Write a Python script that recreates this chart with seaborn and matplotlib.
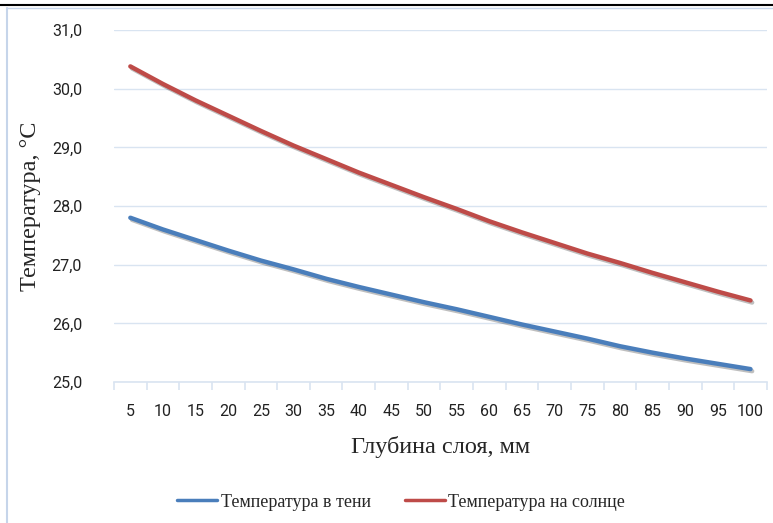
# plot.py - temperature vs layer depth (shade / sun)
import matplotlib
matplotlib.use("Agg")
import matplotlib.pyplot as plt
import matplotlib.patheffects as pe
import matplotlib.ticker as ticker
import pandas as pd
import seaborn as sns

# Data
depth = [5, 10, 15, 20, 25, 30, 35, 40, 45, 50,
         55, 60, 65, 70, 75, 80, 85, 90, 95, 100]
temp_shade = [27.80, 27.60, 27.42, 27.24, 27.07, 26.92, 26.76, 26.62, 26.49, 26.36,
              26.24, 26.11, 25.98, 25.86, 25.74, 25.61, 25.50, 25.40, 25.31, 25.22]
temp_sun = [30.38, 30.08, 29.80, 29.54, 29.28, 29.03, 28.80, 28.57, 28.36, 28.15,
            27.95, 27.74, 27.55, 27.37, 27.19, 27.03, 26.86, 26.70, 26.54, 26.39]
series_names = ["Температура в тени", "Температура на солнце"]
y_ticks = [25, 26, 27, 28, 29, 30, 31]

df = pd.DataFrame({
    "depth": [str(d) for d in depth] * 2,
    "temp": temp_shade + temp_sun,
    "series": [series_names[0]] * len(depth) + [series_names[1]] * len(depth),
})

sns.set_theme(style="white")
plt.rcParams["font.family"] = ["Roboto", "DejaVu Sans"]

fig = plt.figure(figsize=(7.73, 5.23), dpi=100)
ax = fig.add_axes([0.1475, 0.2696, 0.8445, 0.673])

# shadow under the lines like in the excel chart
shadow = [pe.SimpleLineShadow(offset=(1.2, -1.5), alpha=0.25, shadow_color="black"), pe.Normal()]
sns.lineplot(data=df, x="depth", y="temp", hue="series",
             palette=["#4a7ebb", "#be4b48"], linewidth=3.2,
             ax=ax, sort=False, legend=False, path_effects=shadow)

ax.set_xlim(-0.5, len(depth) - 0.5)
ax.set_ylim(25, 31)
ax.set_yticks(y_ticks)
ax.set_yticklabels([f"{v:.1f}".replace(".", ",") for v in y_ticks])
ax.grid(axis="y", color="#d9e4f1", linewidth=1)
ax.set_axisbelow(True)
for s in ["top", "right", "left"]:
    ax.spines[s].set_visible(False)
ax.spines["bottom"].set_color("#d9e4f1")
ax.spines["bottom"].set_linewidth(1.2)

# tick marks sit between the categories
ax.xaxis.set_minor_locator(ticker.FixedLocator([i - 0.5 for i in range(len(depth) + 1)]))
ax.tick_params(axis="x", which="minor", length=6, color="#d9e4f1", width=1.2, bottom=True)
ax.tick_params(axis="x", which="major", length=0, pad=16, labelsize=11.5, labelcolor="#222222")
ax.tick_params(axis="y", length=0, pad=23, labelsize=11.5, labelcolor="#222222")

ax.set_xlabel("Глубина слоя, мм", fontsize=17.5, family="Liberation Serif", labelpad=12)
ax.set_ylabel("Температура, °С", fontsize=17.5, family="Liberation Serif", labelpad=8)

handles = [plt.Line2D([], [], color=c, linewidth=2.5) for c in ["#4a7ebb", "#be4b48"]]
fig.legend(handles, series_names, loc="center", bbox_to_anchor=(0.519, 0.04), ncol=2,
           frameon=False, handlelength=2.2, handletextpad=0.2, columnspacing=1.9,
           prop={"family": "Liberation Serif", "size": 13})

# frame of the chart and the table line above it
fig.add_artist(plt.Line2D([0.009, 0.009], [0, 0.985], color="#c6d5ea", linewidth=1.5))
fig.add_artist(plt.Line2D([0.009, 1.0], [0.985, 0.985], color="#c6d5ea", linewidth=1.0))
fig.add_artist(plt.Line2D([0, 1.0], [0.99, 0.99], color="black", linewidth=1.5))

fig.savefig("out.png", dpi=100)
